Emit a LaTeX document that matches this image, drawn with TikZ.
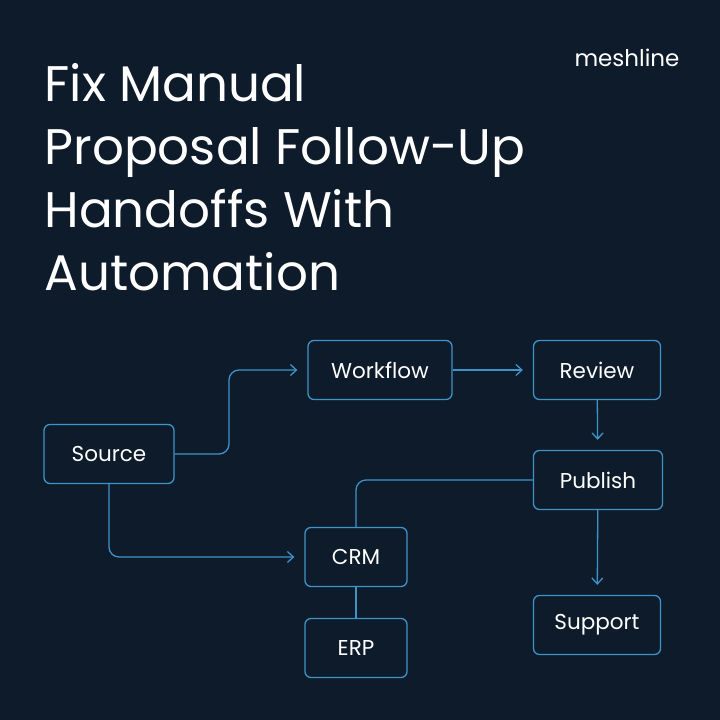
\documentclass[tikz,border=0pt]{standalone}
\usepackage{fontspec}
\setmainfont{Poppins}
\usetikzlibrary{positioning,calc,arrows.meta}
\definecolor{colorBG}{HTML}{0E1B2B}
\definecolor{colorLN}{HTML}{3E93C8}
\tikzset{
   every path/.style={>={Straight Barb[length=6pt,width=11pt]}},
   box/.style={draw=colorLN,line width=1.3pt,rounded corners=6pt,fill=colorBG,
      text=white,font=\fontsize{21.5}{24}\selectfont,minimum height=59pt},
   flow/.style={->,draw=colorLN,line width=1.3pt,rounded corners=10pt},
   link/.style={-,draw=colorLN,line width=1.3pt,rounded corners=10pt},
   title/.style={anchor=base west,text=white,font=\fontsize{50}{54}\selectfont},
}
\begin{document}
\begin{tikzpicture}[x=1pt,y=-1pt]
      \fill[colorBG] (0,0) rectangle (720,720);
      \useasboundingbox (0,0) rectangle (720,720);

      \node[title] (line1) at (41,101) {Fix Manual};
      \node[title] (line2) at (41,164) {Proposal Follow-Up};
      \node[title] (line3) at (41,227) {Handoffs With};
      \node[title] (line4) at (41,290) {Automation};
      \node[anchor=base east,text=white,font=\fontsize{23}{26}\selectfont]
        (brand) at (683,66) {meshline};

      \node[box,minimum width=130pt] (source) at (109,454) {Source};
      \node[box,minimum width=144pt] (workflow) at (380,370) {Workflow};
      \node[box,minimum width=127pt] (review) at (597,370) {Review};
      \node[box,minimum width=129pt] (publish) at (598,480) {Publish};
      \node[box,minimum width=102pt] (crm) at (356,557) {CRM};
      \node[box,minimum width=102pt] (erp) at (356,648) {ERP};
      \node[box,minimum width=127pt] (support) at (597,625) {Support};

      \draw[flow] (source.east) -| ($(source.east)!0.5!(workflow.west)+(-12,0)$)
        |- ($(workflow.west)+(-10,0)$);
      \draw[flow,shorten >=10pt] (workflow) -- (review);
      \draw[flow,shorten >=10pt] (review) -- (publish);
      \draw[link] (publish.west) -| (crm.north);
      \draw[flow,shorten >=10pt] (source.south) |- (crm.west);
      \draw[link] (crm) -- (erp);
      \draw[flow,shorten >=10pt] (publish) -- (support);
\end{tikzpicture}
\end{document}
